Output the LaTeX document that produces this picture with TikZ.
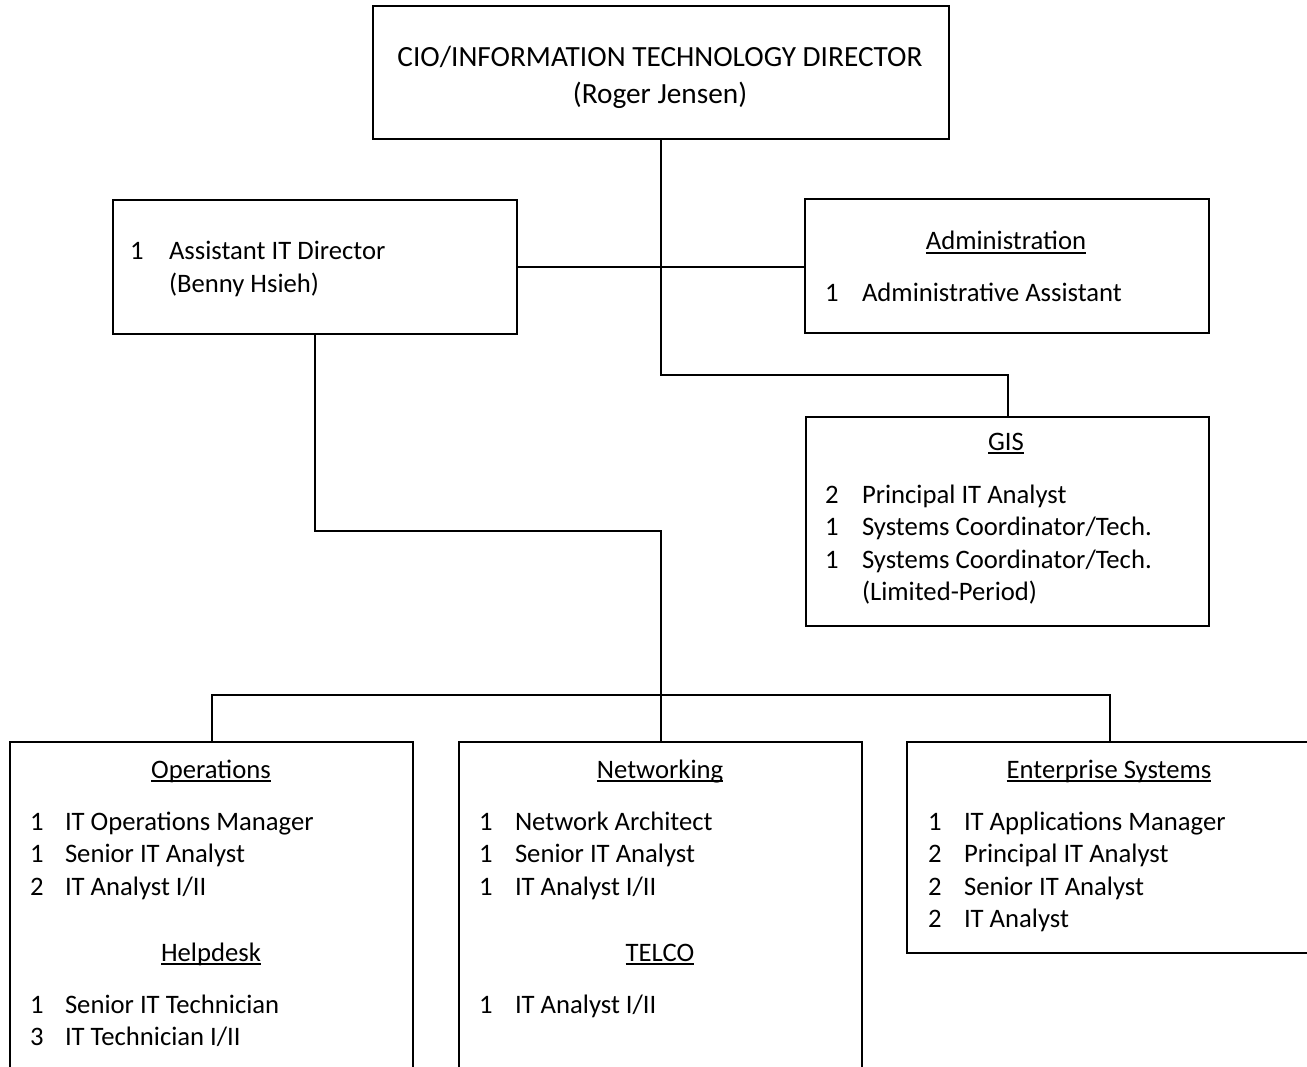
\documentclass[tikz,border=0pt]{standalone}
\usepackage{fontspec}
\setmainfont{Carlito}
\newcommand\myul[1]{\setbox0\hbox{#1}\rlap{\rule[-3.6pt]{\wd0}{1.5pt}}\box0}
\begin{document}
\begin{tikzpicture}[x=1pt,y=-1pt,line width=2pt,
  box/.style={draw,line width=2pt,anchor=north west,inner sep=0pt},
  big/.style={anchor=base,inner sep=0pt,font=\fontsize{29.3}{35}\selectfont},
  ttl/.style={anchor=base,inner sep=0pt,font=\fontsize{26.67}{32}\selectfont},
  itm/.style={anchor=base west,inner sep=0pt,font=\fontsize{26.67}{32}\selectfont}]
\useasboundingbox (0,0) rectangle (1307,1067);
\clip (0,0) rectangle (1307,1067);
\fill[white] (0,0) rectangle (1307,1067);
% boxes
\node[box,minimum width=576pt,minimum height=133pt] (cio) at (372,5) {};
\node[box,minimum width=404pt,minimum height=134pt] (asst) at (112,199) {};
\node[box,minimum width=404pt,minimum height=134pt] (admin) at (804,198) {};
\node[box,minimum width=403pt,minimum height=209pt] (gis) at (805,416) {};
\node[box,minimum width=403pt,minimum height=340pt] (ops) at (9,741) {};
\node[box,minimum width=403pt,minimum height=340pt] (net) at (458,741) {};
\node[box,minimum width=406pt,minimum height=211pt] (ent) at (906,741) {};
% connectors
\draw (cio.south) -- (cio.south |- 0,375) -| (gis.north);
\draw (asst.east) -- (asst.east -| admin.west);
\draw (asst.south) |- (net.north |- 0,531) -- (net.north);
\draw (ops.north) -- ++(0,-46) -| (ent.north);
% top
\node[big] (t1) at (660,67) {CIO/INFORMATION TECHNOLOGY DIRECTOR};
\node[big] (t2) at (660,104) {(Roger Jensen)};
% assistant
\node[itm] (a1n) at (129,260) {1};
\node[itm] (a1) at (168,260) {Assistant IT Director};
\node[itm] (a2) at (168,293) {(Benny Hsieh)};
% admin
\node[ttl] (adt) at (1006,250) {\myul{Administration}};
\node[itm] (ad1n) at (824,302) {1};
\node[itm] (ad1) at (861,302) {Administrative Assistant};
% gis
\node[ttl] (gt) at (1006,450) {\myul{GIS}};
\node[itm] (g1n) at (824,503) {2};
\node[itm] (g1) at (861,503) {Principal IT Analyst};
\node[itm] (g2n) at (824,535.5) {1};
\node[itm] (g2) at (861,535.5) {Systems Coordinator/Tech.};
\node[itm] (g3n) at (824,568) {1};
\node[itm] (g3) at (861,568) {Systems Coordinator/Tech.};
\node[itm] (g4) at (861,600.5) {(Limited-Period)};
% operations
\node[ttl] (ot) at (211,778) {\myul{Operations}};
\node[itm] (o1n) at (29,830) {1};
\node[itm] (o1) at (64,830) {IT Operations Manager};
\node[itm] (o2n) at (29,862.5) {1};
\node[itm] (o2) at (64,862.5) {Senior IT Analyst};
\node[itm] (o3n) at (29,895) {2};
\node[itm] (o3) at (64,895) {IT Analyst I/II};
\node[ttl] (ht) at (211,961) {\myul{Helpdesk}};
\node[itm] (h1n) at (29,1013) {1};
\node[itm] (h1) at (64,1013) {Senior IT Technician};
\node[itm] (h2n) at (29,1045.5) {3};
\node[itm] (h2) at (64,1045.5) {IT Technician I/II};
% networking
\node[ttl] (nt) at (660,778) {\myul{Networking}};
\node[itm] (n1n) at (478,830) {1};
\node[itm] (n1) at (514,830) {Network Architect};
\node[itm] (n2n) at (478,862.5) {1};
\node[itm] (n2) at (514,862.5) {Senior IT Analyst};
\node[itm] (n3n) at (478,895) {1};
\node[itm] (n3) at (514,895) {IT Analyst I/II};
\node[ttl] (tt) at (660,961) {\myul{TELCO}};
\node[itm] (tl1n) at (478,1013) {1};
\node[itm] (tl1) at (514,1013) {IT Analyst I/II};
% enterprise
\node[ttl] (et) at (1109,778) {\myul{Enterprise Systems}};
\node[itm] (e1n) at (927,830) {1};
\node[itm] (e1) at (963,830) {IT Applications Manager};
\node[itm] (e2n) at (927,862.5) {2};
\node[itm] (e2) at (963,862.5) {Principal IT Analyst};
\node[itm] (e3n) at (927,895) {2};
\node[itm] (e3) at (963,895) {Senior IT Analyst};
\node[itm] (e4n) at (927,927.5) {2};
\node[itm] (e4) at (963,927.5) {IT Analyst};
\end{tikzpicture}
\end{document}
